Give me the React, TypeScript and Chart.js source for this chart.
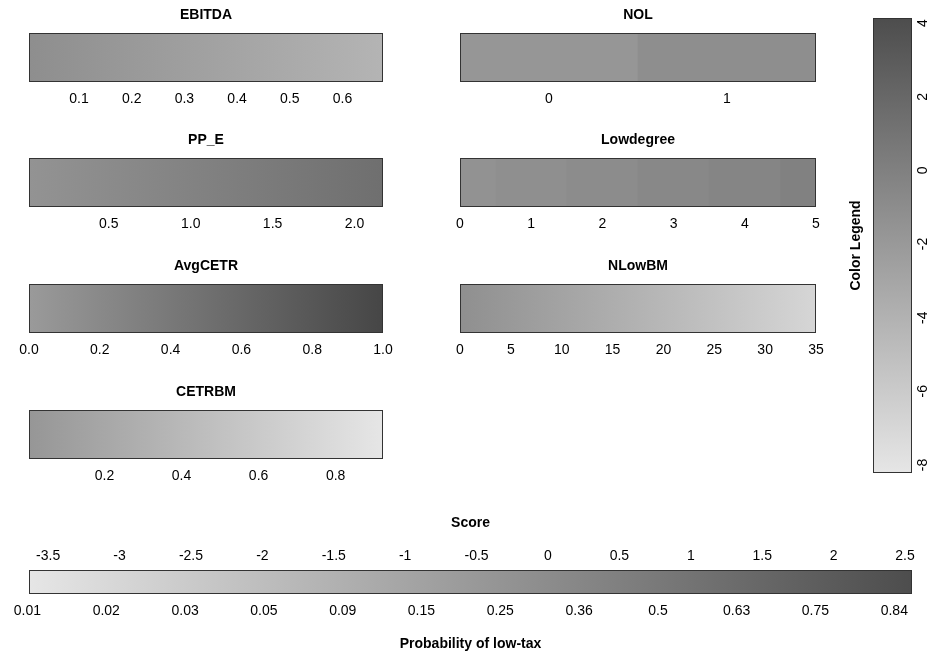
import React, { useEffect, useRef } from "react";
import { Chart, registerables } from "chart.js";

Chart.register(...registerables);

const FONT = "'Liberation Sans', Arial, Helvetica, sans-serif";

// ---------- data ----------
// Continuous strips: value range shown, tick labels, colour at low end / high end
const ebitdaRange = [0.005, 0.677];
const ebitdaTicks = ["0.1", "0.2", "0.3", "0.4", "0.5", "0.6"];
const ebitdaColors = ["#8e8e8e", "#b4b4b4"];

const ppeRange = [0.013, 2.174];
const ppeTicks = ["0.5", "1.0", "1.5", "2.0"];
const ppeColors = ["#939393", "#6f6f6f"];

const avgcetrRange = [0, 1];
const avgcetrTicks = ["0.0", "0.2", "0.4", "0.6", "0.8", "1.0"];
const avgcetrColors = ["#9a9a9a", "#464646"];

const nlowbmRange = [0, 35];
const nlowbmTicks = ["0", "5", "10", "15", "20", "25", "30", "35"];
const nlowbmColors = ["#8f8f8f", "#d6d6d6"];

const cetrbmRange = [0.004, 0.923];
const cetrbmTicks = ["0.2", "0.4", "0.6", "0.8"];
const cetrbmColors = ["#969696", "#e6e6e6"];

// Discrete strips: levels and their colours
const nolRange = [-0.5, 1.5];
const nolLevels = [0, 1];
const nolTicks = ["0", "1"];
const nolColors = ["#969696", "#8e8e8e"];

const lowdegreeRange = [0, 5];
const lowdegreeLevels = [0, 1, 2, 3, 4, 5];
const lowdegreeTicks = ["0", "1", "2", "3", "4", "5"];
const lowdegreeColors = ["#929292", "#8f8f8f", "#8c8c8c", "#888888", "#858585", "#818181"];

// Colour legend
const legendRange = [-8.22, 4.14];
const legendTicks = ["-8", "-6", "-4", "-2", "0", "2", "4"];
const legendColors = ["#e6e6e6", "#4d4d4d"];

// Score strip
const scoreRange = [-3.634, 2.549];
const scoreTicks = ["-3.5", "-3", "-2.5", "-2", "-1.5", "-1", "-0.5", "0", "0.5", "1", "1.5", "2", "2.5"];
const scoreColors = ["#e6e6e6", "#4d4d4d"];
const probTickScores = [-3.645, -3.093, -2.541, -1.989, -1.437, -0.886, -0.334, 0.218, 0.77, 1.321, 1.873, 2.425];
const probTickLabels = ["0.01", "0.02", "0.03", "0.05", "0.09", "0.15", "0.25", "0.36", "0.5", "0.63", "0.75", "0.84"];

// ---------- helpers ----------
type Cell = { from: number; to: number; colors: string[] };

const framePlugin = {
  id: "frame",
  afterDatasetsDraw(chart: any) {
    const { ctx, chartArea } = chart;
    if (!chartArea) return;
    const l = Math.round(chartArea.left) + 0.5;
    const t = Math.round(chartArea.top) + 0.5;
    const r = Math.round(chartArea.right) - 0.5;
    const b = Math.round(chartArea.bottom) - 0.5;
    ctx.save();
    ctx.strokeStyle = "#333333";
    ctx.lineWidth = 1;
    ctx.strokeRect(l, t, r - l, b - t);
    ctx.restore();
  },
};

function continuousCells(range: number[], colors: string[]): Cell[] {
  return [{ from: range[0], to: range[1], colors }];
}
function discreteCells(levels: number[], colors: string[]): Cell[] {
  return levels.map((lv, i) => ({ from: lv - 0.5, to: lv + 0.5, colors: [colors[i]] }));
}

function fillFor(cells: Cell[], horizontal: boolean) {
  return (ctx: any) => {
    const cell = cells[ctx.dataIndex];
    if (!cell) return "#999";
    if (cell.colors.length === 1) return cell.colors[0];
    const chart = ctx.chart;
    if (!chart.chartArea) return cell.colors[0];
    const sc = horizontal ? chart.scales.x : chart.scales.y;
    const p0 = sc.getPixelForValue(cell.from);
    const p1 = sc.getPixelForValue(cell.to);
    const g = horizontal
      ? chart.ctx.createLinearGradient(p0, 0, p1, 0)
      : chart.ctx.createLinearGradient(0, p0, 0, p1);
    g.addColorStop(0, cell.colors[0]);
    g.addColorStop(1, cell.colors[1]);
    return g;
  };
}

const tickFont = { family: FONT, size: 14 };
const titleFont = { family: FONT, size: 14, weight: "bold" as const };

function setTicks(labels: string[], values?: number[]) {
  const vals = values ?? labels.map(Number);
  return (s: any) => {
    s.ticks = vals.map((v) => ({ value: v }));
  };
}

function makeStrip(canvas: HTMLCanvasElement, title: string, range: number[], ticks: string[], cells: Cell[]) {
  return new Chart(canvas, {
    type: "bar",
    data: {
      labels: ["v"],
      datasets: [
        {
          data: cells.map((c) => ({ y: "v", x: [c.from, c.to] })) as any,
          backgroundColor: fillFor(cells, true) as any,
          borderWidth: 0,
          barPercentage: 1,
          categoryPercentage: 1,
          clip: 0 as any,
        },
      ],
    },
    options: {
      animation: false,
      responsive: false,
      indexAxis: "y",
      layout: { padding: { left: 20, right: 20, top: 0, bottom: 0 } },
      plugins: {
        legend: { display: false },
        tooltip: { enabled: false },
        title: {
          display: true,
          text: title,
          color: "#000",
          font: titleFont,
          padding: { top: 6.6, bottom: 9.6 },
        },
      },
      scales: {
        x: {
          type: "linear",
          position: "bottom",
          min: range[0],
          max: range[1],
          grid: { display: false, drawTicks: false },
          border: { display: false },
          ticks: {
            font: tickFont,
            color: "#000",
            padding: 9,
            autoSkip: false,
            maxRotation: 0,
            callback: (_v: any, i: number) => ticks[i],
          },
          afterBuildTicks: setTicks(ticks),
          afterFit: (s: any) => {
            s.height = 30;
          },
        },
        y: { type: "category", display: false },
      },
    } as any,
    plugins: [framePlugin],
  });
}

function makeLegend(canvas: HTMLCanvasElement) {
  const cells = continuousCells(legendRange, legendColors);
  return new Chart(canvas, {
    type: "bar",
    data: {
      labels: ["v"],
      datasets: [
        {
          data: cells.map((c) => ({ x: "v", y: [c.from, c.to] })) as any,
          backgroundColor: fillFor(cells, false) as any,
          borderWidth: 0,
          barPercentage: 1,
          categoryPercentage: 1,
          clip: 0 as any,
        },
      ],
    },
    options: {
      animation: false,
      responsive: false,
      layout: { padding: { left: 0, right: 0, top: 18, bottom: 17 } },
      plugins: {
        legend: { display: false },
        tooltip: { enabled: false },
        title: {
          display: true,
          text: "Color Legend",
          position: "left",
          color: "#000",
          font: titleFont,
          padding: { top: 7.6, bottom: 8.6 },
        },
      },
      scales: {
        x: { type: "category", display: false },
        y: {
          type: "linear",
          position: "right",
          min: legendRange[0],
          max: legendRange[1],
          grid: { display: false, drawTicks: false },
          border: { display: false },
          ticks: {
            font: tickFont,
            color: "#000",
            padding: 5,
            autoSkip: false,
            minRotation: 90,
            maxRotation: 90,
            crossAlign: "center",
            callback: (_v: any, i: number) => legendTicks[i],
          },
          afterBuildTicks: setTicks(legendTicks),
          afterFit: (s: any) => {
            s.width = 18;
          },
        },
      },
    } as any,
    plugins: [framePlugin],
  });
}

function makeScore(canvas: HTMLCanvasElement) {
  const cells = continuousCells(scoreRange, scoreColors);
  return new Chart(canvas, {
    type: "bar",
    data: {
      labels: ["v"],
      datasets: [
        {
          data: cells.map((c) => ({ y: "v", x: [c.from, c.to] })) as any,
          backgroundColor: fillFor(cells, true) as any,
          borderWidth: 0,
          barPercentage: 1,
          categoryPercentage: 1,
          clip: 0 as any,
        },
      ],
    },
    options: {
      animation: false,
      responsive: false,
      indexAxis: "y",
      layout: { padding: { left: 29, right: 18, top: 0, bottom: 0 } },
      plugins: { legend: { display: false }, tooltip: { enabled: false } },
      scales: {
        x: {
          type: "linear",
          position: "top",
          min: scoreRange[0],
          max: scoreRange[1],
          grid: { display: false, drawTicks: false },
          border: { display: false },
          title: {
            display: true,
            text: "Score",
            color: "#000",
            font: titleFont,
            padding: { top: 10, bottom: 0 },
          },
          ticks: {
            font: tickFont,
            color: "#000",
            padding: 5,
            autoSkip: false,
            maxRotation: 0,
            callback: (_v: any, i: number) => scoreTicks[i],
          },
          afterBuildTicks: setTicks(scoreTicks),
          afterFit: (s: any) => {
            s.height = 65;
          },
        },
        x2: {
          type: "linear",
          axis: "x",
          position: "bottom",
          min: scoreRange[0],
          max: scoreRange[1],
          grid: { display: false, drawTicks: false },
          border: { display: false },
          title: {
            display: true,
            text: "Probability of low-tax",
            color: "#000",
            font: titleFont,
            padding: { top: 0, bottom: 2.6 },
          },
          ticks: {
            font: tickFont,
            color: "#000",
            padding: 9,
            autoSkip: false,
            maxRotation: 0,
            callback: (_v: any, i: number) => probTickLabels[i],
          },
          afterBuildTicks: setTicks(probTickLabels, probTickScores),
          afterFit: (s: any) => {
            s.height = 61;
          },
        },
        y: { type: "category", display: false },
      },
    } as any,
    plugins: [framePlugin],
  });
}

// ---------- layout ----------
const LEFT_X = 9;
const LEFT_W = 394;
const RIGHT_X = 440;
const RIGHT_W = 396;
const ROW_TOPS = [0, 125, 251, 377];
const STRIP_H = 112;

type StripDef = {
  key: string;
  title: string;
  range: number[];
  ticks: string[];
  cells: Cell[];
  x: number;
  y: number;
  w: number;
};

const strips: StripDef[] = [
  { key: "ebitda", title: "EBITDA", range: ebitdaRange, ticks: ebitdaTicks, cells: continuousCells(ebitdaRange, ebitdaColors), x: LEFT_X, y: ROW_TOPS[0], w: LEFT_W },
  { key: "nol", title: "NOL", range: nolRange, ticks: nolTicks, cells: discreteCells(nolLevels, nolColors), x: RIGHT_X, y: ROW_TOPS[0], w: RIGHT_W },
  { key: "ppe", title: "PP_E", range: ppeRange, ticks: ppeTicks, cells: continuousCells(ppeRange, ppeColors), x: LEFT_X, y: ROW_TOPS[1], w: LEFT_W },
  { key: "lowdegree", title: "Lowdegree", range: lowdegreeRange, ticks: lowdegreeTicks, cells: discreteCells(lowdegreeLevels, lowdegreeColors), x: RIGHT_X, y: ROW_TOPS[1], w: RIGHT_W },
  { key: "avgcetr", title: "AvgCETR", range: avgcetrRange, ticks: avgcetrTicks, cells: continuousCells(avgcetrRange, avgcetrColors), x: LEFT_X, y: ROW_TOPS[2], w: LEFT_W },
  { key: "nlowbm", title: "NLowBM", range: nlowbmRange, ticks: nlowbmTicks, cells: continuousCells(nlowbmRange, nlowbmColors), x: RIGHT_X, y: ROW_TOPS[2], w: RIGHT_W },
  { key: "cetrbm", title: "CETRBM", range: cetrbmRange, ticks: cetrbmTicks, cells: continuousCells(cetrbmRange, cetrbmColors), x: LEFT_X, y: ROW_TOPS[3], w: LEFT_W },
];

export default function App() {
  const stripRefs = useRef<(HTMLCanvasElement | null)[]>([]);
  const legendRef = useRef<HTMLCanvasElement | null>(null);
  const scoreRef = useRef<HTMLCanvasElement | null>(null);

  useEffect(() => {
    const charts: Chart[] = [];
    strips.forEach((s, i) => {
      const c = stripRefs.current[i];
      if (c) charts.push(makeStrip(c, s.title, s.range, s.ticks, s.cells));
    });
    if (legendRef.current) charts.push(makeLegend(legendRef.current));
    if (scoreRef.current) charts.push(makeScore(scoreRef.current));
    return () => charts.forEach((c) => c.destroy());
  }, []);

  const abs = (x: number, y: number, w: number, h: number): React.CSSProperties => ({
    position: "absolute",
    left: x,
    top: y,
    width: w,
    height: h,
  });

  return (
    <div style={{ position: "absolute", left: 0, top: 0, width: 930, height: 655, background: "#fff", overflow: "hidden" }}>
      {strips.map((s, i) => (
        <canvas
          key={s.key}
          ref={(el) => {
            stripRefs.current[i] = el;
          }}
          width={s.w}
          height={STRIP_H}
          style={abs(s.x, s.y, s.w, STRIP_H)}
        />
      ))}
      <canvas ref={legendRef} width={90} height={490} style={abs(840, 0, 90, 490)} />
      <canvas ref={scoreRef} width={930} height={150} style={abs(0, 505, 930, 150)} />
    </div>
  );
}
